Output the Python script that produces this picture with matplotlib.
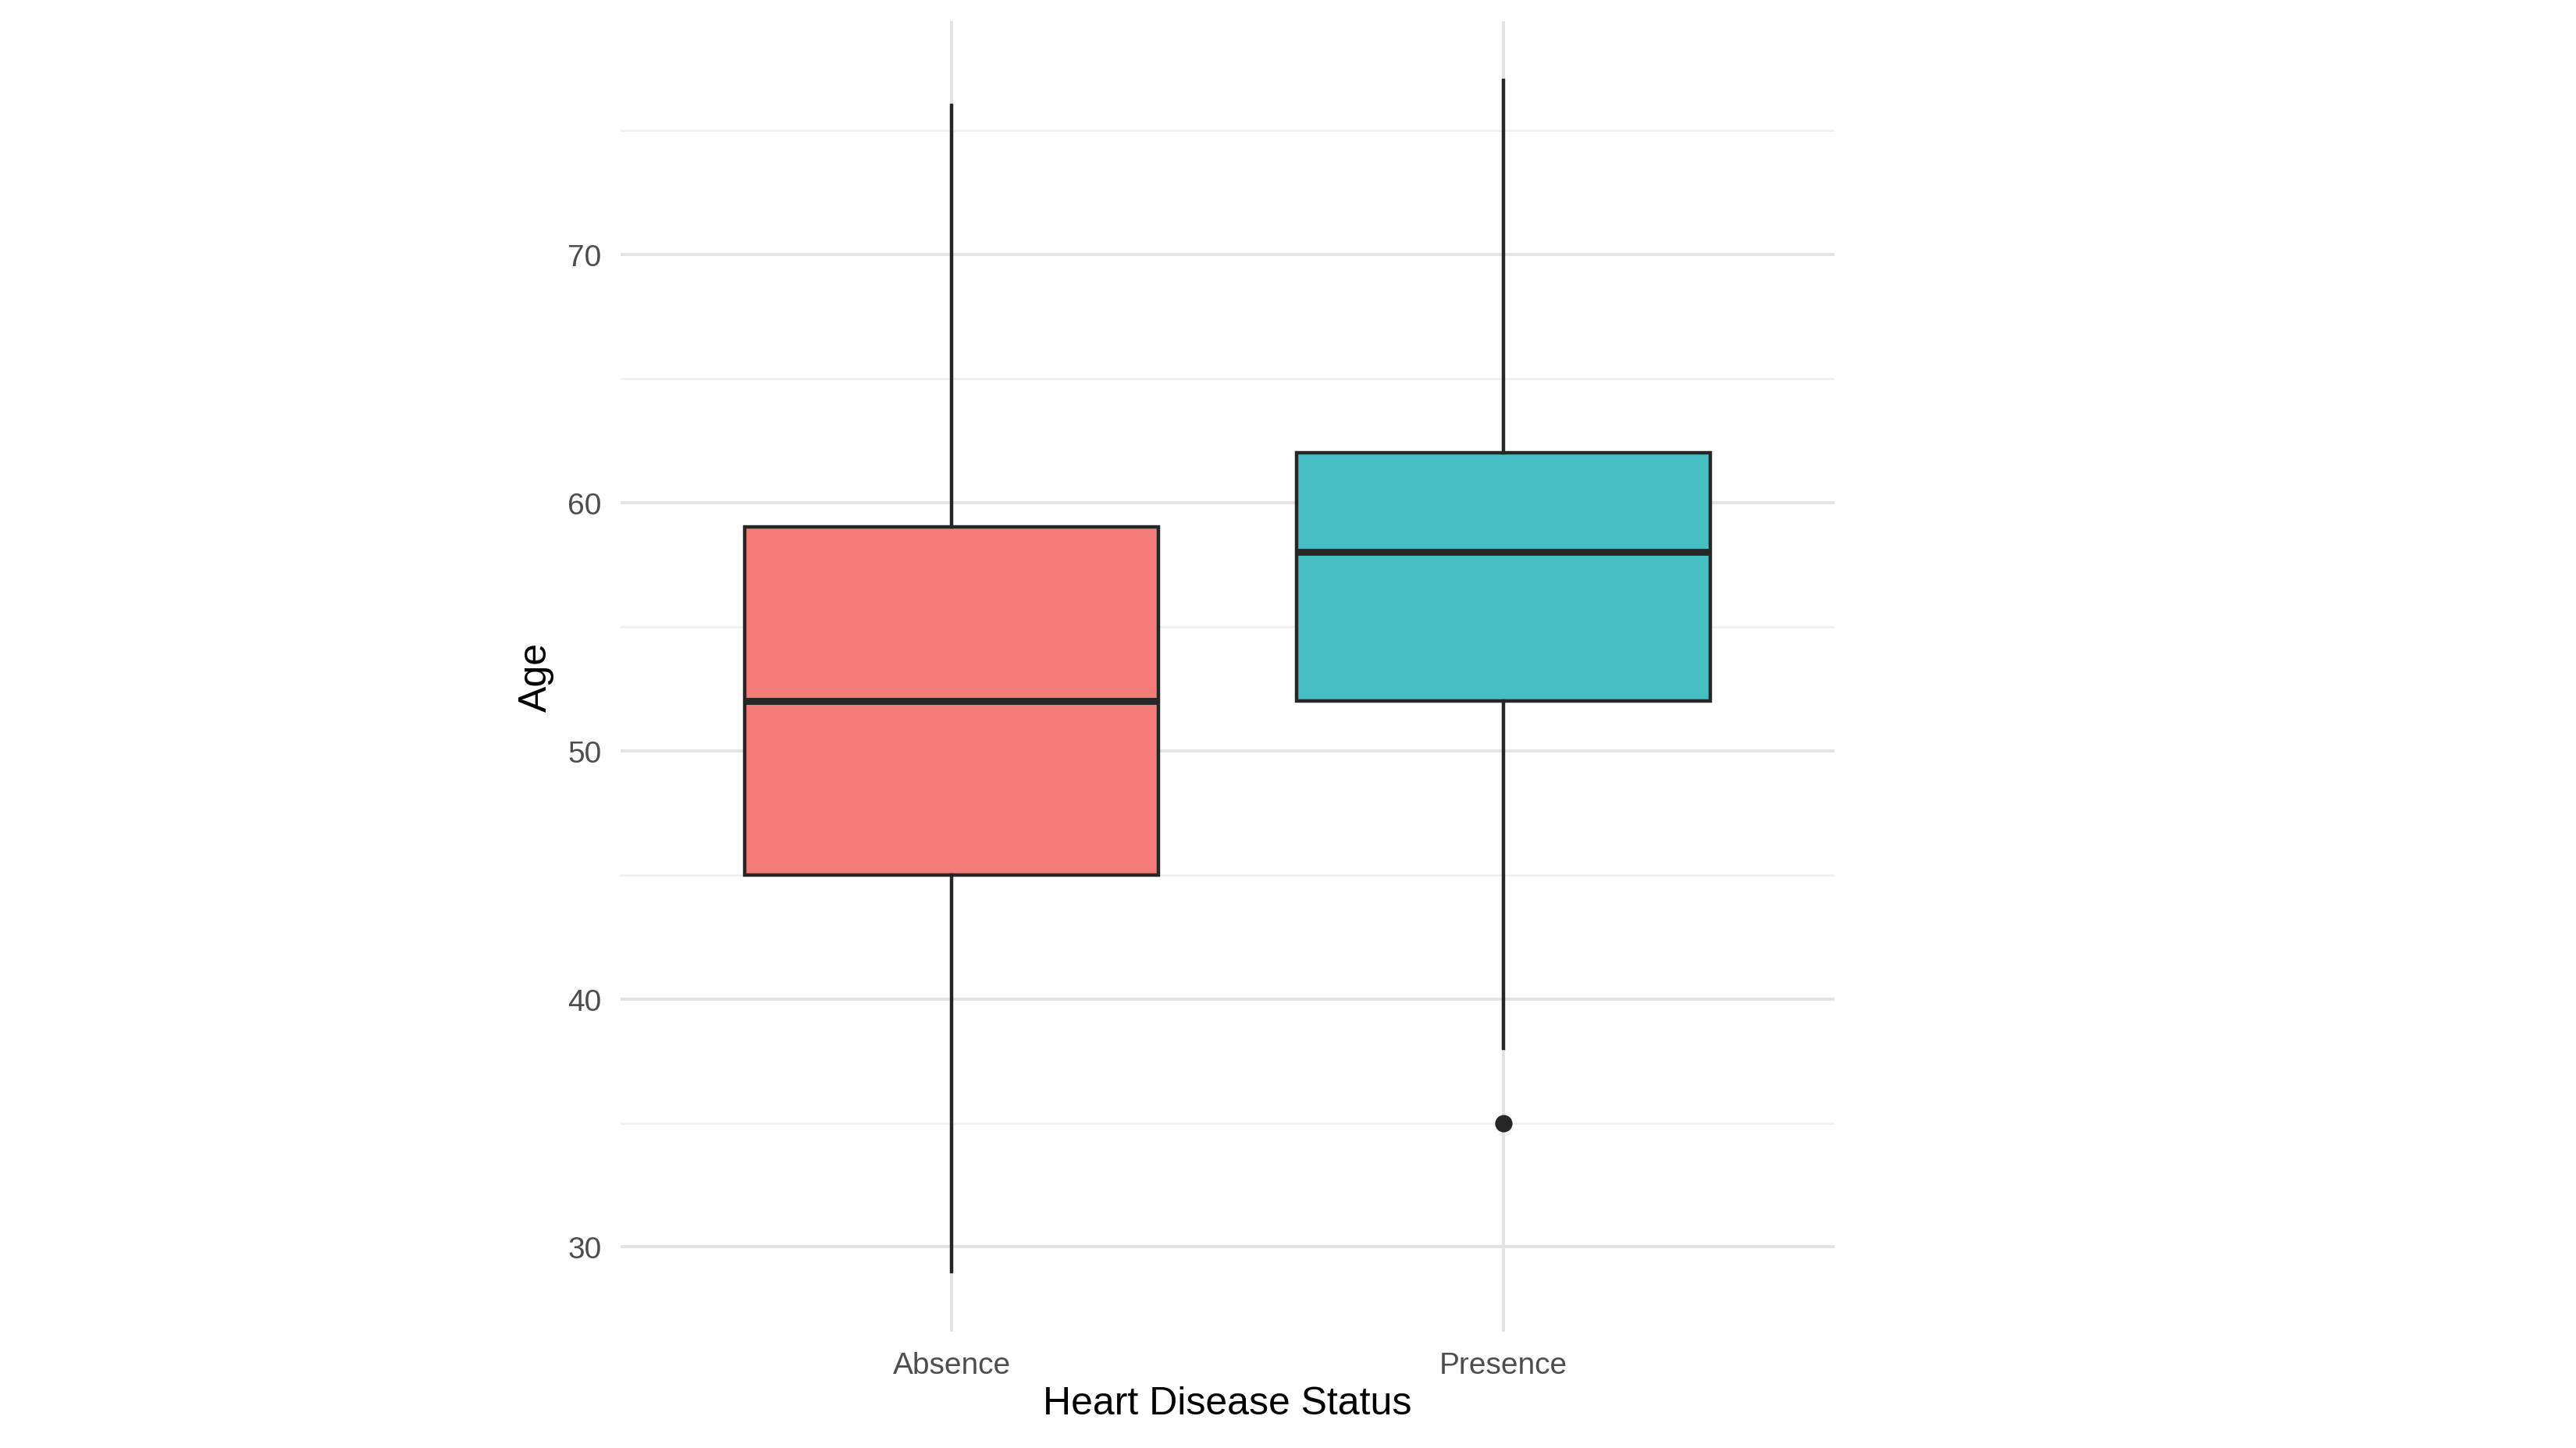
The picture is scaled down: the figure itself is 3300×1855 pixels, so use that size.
import matplotlib.pyplot as plt

plt.rcParams["font.family"] = ["Liberation Sans", "DejaVu Sans"]

# ---- data ----
groups = ["Absence", "Presence"]
whisker_low = [29, 38]
q1 = [45, 52]
median = [52, 58]
q3 = [59, 62]
whisker_high = [76, 77]
outliers = [[], [35]]
colors = ["#F47C78", "#45BFC4"]

fig = plt.figure(figsize=(16.5, 9.28), dpi=200)
ax = fig.add_axes([0.241, 0.0805, 0.471, 0.9045])

stats = [dict(label=g, whislo=lo, q1=a, med=m, q3=b, whishi=hi, fliers=f)
         for g, lo, a, m, b, hi, f in zip(groups, whisker_low, q1, median, q3, whisker_high, outliers)]
bp = ax.bxp(stats, positions=[1, 2], widths=0.75, patch_artist=True, showcaps=False,
            boxprops=dict(edgecolor="#262626", linewidth=1.6),
            whiskerprops=dict(color="#262626", linewidth=1.6),
            medianprops=dict(color="#262626", linewidth=3.2),
            flierprops=dict(marker="o", markerfacecolor="#262626", markeredgecolor="#262626",
                            markersize=7), zorder=3)
for patch, c in zip(bp["boxes"], colors):
    patch.set_facecolor(c)
    patch.set_edgecolor("#262626")

ax.set_xlim(0.4, 2.6)
ax.set_ylim(26.6, 79.4)
ax.set_yticks([30, 40, 50, 60, 70])
ax.set_yticks([35, 45, 55, 65, 75], minor=True)
ax.grid(axis="y", which="major", color="#E3E3E3", linewidth=1.4)
ax.grid(axis="y", which="minor", color="#EFEFEF", linewidth=0.9)
ax.grid(axis="x", which="major", color="#E3E3E3", linewidth=1.4)
ax.set_axisbelow(True)
for s in ax.spines.values():
    s.set_visible(False)
ax.tick_params(length=0, labelsize=14, labelcolor="#4D4D4D", pad=9)
ax.tick_params(which="minor", length=0)
ax.set_xlabel("Heart Disease Status", fontsize=18, labelpad=3)
ax.set_ylabel("Age", fontsize=18, labelpad=6)

fig.savefig("out.png", dpi=200, facecolor="white")
